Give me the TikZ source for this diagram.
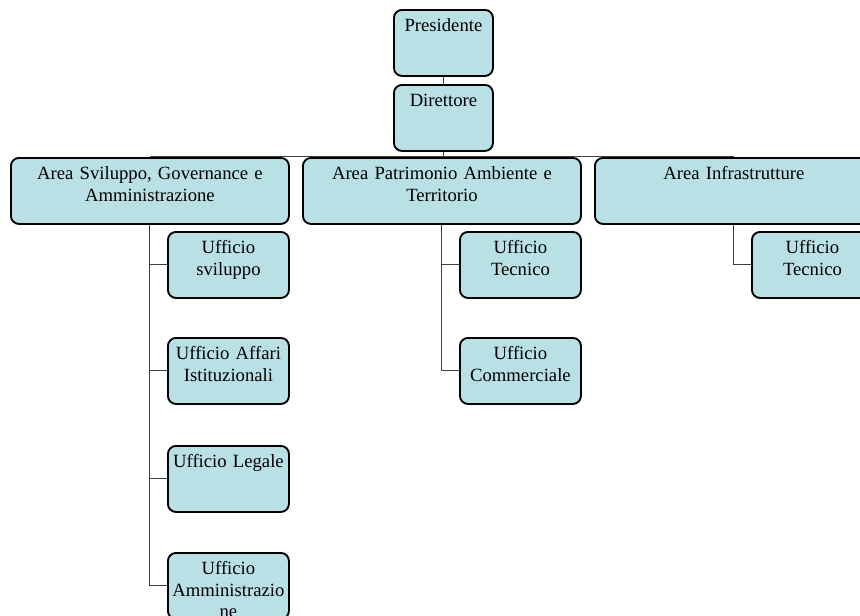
\documentclass[tikz,border=0pt]{standalone}
\usepackage{fontspec}
\setmainfont{Liberation Serif}
\usetikzlibrary{calc}
\definecolor{boxfill}{RGB}{185,224,228}
\tikzset{
	orgbox/.style={draw, line width=1.4pt, rounded corners=6pt, fill=boxfill, anchor=north west,
		align=center, inner xsep=0pt, inner ysep=0pt, text height=16.5pt, text depth=33pt,
		font=\fontsize{14}{16.1}\selectfont},
	topbox/.style={orgbox, text width=74.25pt},
	areabox/.style={orgbox, text width=208.5pt},
	officebox/.style={orgbox, text width=90.75pt},
	link/.style={draw=black!75, line width=0.8pt}
}
\begin{document}
\begin{tikzpicture}[x=0.75pt,y=-0.75pt]
		\useasboundingbox (0,0) rectangle (860,615);
		\node[topbox] (Pres) at (393,9) {Presidente};
		\node[topbox] (Dir) at (393,84) {Direttore};
		\node[areabox] (A1) at (10,157) {Area Sviluppo, Governance e\\Amministrazione};
		\node[areabox] (A2) at (302,157) {Area Patrimonio Ambiente e\\Territorio};
		\node[areabox] (A3) at (594,157) {Area Infrastrutture};
		\begin{scope}
			\node[officebox] (U11) at (167,231) {Ufficio\\sviluppo};
			\node[officebox] (U12) at (167,337) {Ufficio Affari\\Istituzionali};
			\node[officebox] (U13) at (167,445) {Ufficio Legale};
			\node[officebox] (U14) at (167,552) {Ufficio\\Amministrazio\\ne};
			\node[officebox] (U21) at (459,231) {Ufficio\\Tecnico};
			\node[officebox] (U22) at (459,337) {Ufficio\\Commerciale};
			\node[officebox] (U31) at (751,231) {Ufficio\\Tecnico};
		\end{scope}
		\coordinate (bus) at ($(Dir.south) + (0,5)$);
		\path[link] (Pres.south) edge (Dir.north)
			(Dir.south) edge (bus)
			(A1.north |- bus) edge (A3.north |- bus);
		\draw[link] (A1.south) |- (U11.west);
		\draw[link] (A1.south) |- (U12.west);
		\draw[link] (A1.south) |- (U13.west);
		\draw[link] (A1.south) |- (U14.west);
		\draw[link] (A2.south) |- (U21.west);
		\draw[link] (A2.south) |- (U22.west);
		\draw[link] (A3.south) |- (U31.west);
	\end{tikzpicture}
\end{document}
